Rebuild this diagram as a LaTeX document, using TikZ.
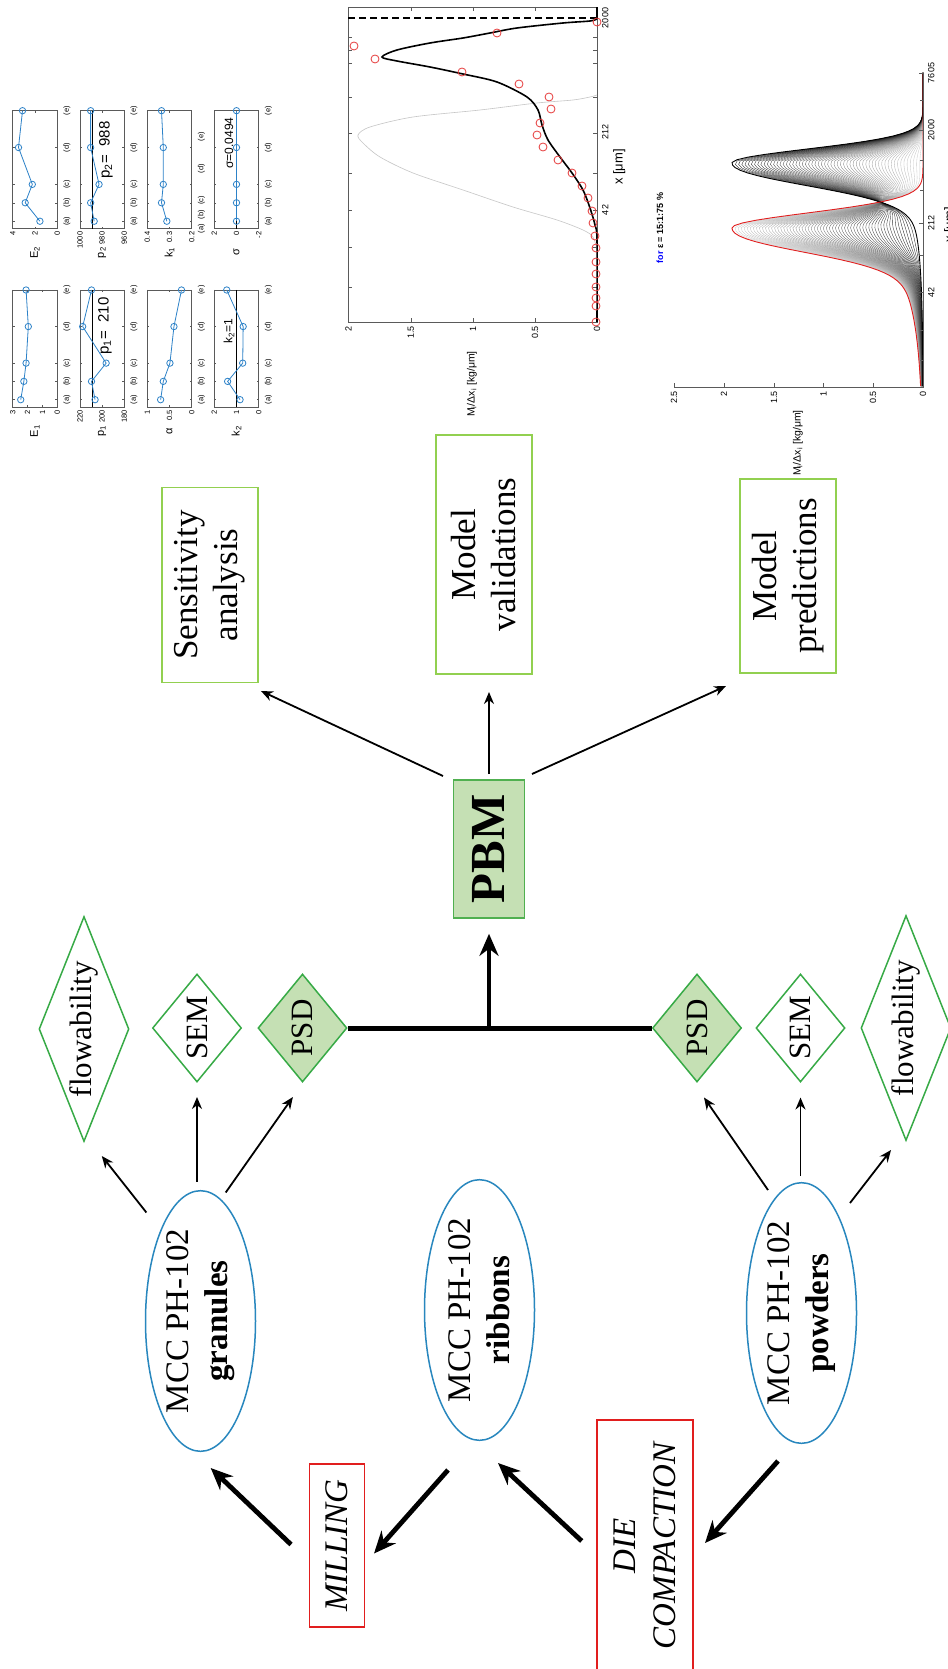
\documentclass[tikz,border=0pt]{standalone}
\usepackage{fontspec}
\setmainfont{Liberation Serif}
\newfontfamily\plotfont{Liberation Sans}
\usetikzlibrary{shapes.geometric,arrows.meta,calc,plotmarks}
\definecolor{boxgreen}{RGB}{146,208,80}
\definecolor{pbmgreen}{RGB}{80,176,80}
\definecolor{dgreen}{RGB}{55,170,70}
\definecolor{lgfill}{RGB}{197,224,180}
\definecolor{ellblue}{RGB}{40,135,190}
\definecolor{procred}{RGB}{225,30,30}
\definecolor{mblue}{RGB}{45,130,200}
\definecolor{circred}{RGB}{230,60,60}
\definecolor{axgray}{RGB}{90,90,90}
\newcommand\sptick{\plotfont\fontsize{7.5}{8}\selectfont}
\newcommand\splab{\plotfont\fontsize{11}{12}\selectfont}
\newcommand\ptick{\plotfont\fontsize{9}{10}\selectfont}
\def\catstd{0.0625/{(a)},0.219/{(b)},0.375/{(c)},0.6875/{(d)},1/{(e)}}
\def\catkone{0.0/{(a)},0.12/{(b)},0.24/{(c)},0.51/{(d)},0.78/{(e)}}
\newcommand\spframe[3]{%
  \draw[axgray, line width=0.6pt] (0,0) rectangle (1,1);
  \foreach \u in {0.0625,0.219,0.375,0.6875,1}{%
    \draw[axgray, line width=0.5pt] (\u,0) -- ([xshift=-2pt]\u,0);
    \draw[axgray, line width=0.5pt] (\u,1) -- ([xshift=2pt]\u,1);}
  \foreach \f/\l in {#1}{%
    \draw[axgray, line width=0.5pt] (0,\f) -- ([yshift=2pt]0,\f);
    \draw[axgray, line width=0.5pt] (1,\f) -- ([yshift=-2pt]1,\f);
    \node[rotate=90, anchor=east, font=\sptick, inner sep=0pt] at ([yshift=-3pt]0,\f) {\l};}
  \foreach \u/\l in #3{%
    \node[rotate=90, anchor=north, font=\sptick, inner sep=0pt] at ([xshift=6pt]\u,0) {\l};}
  \node[rotate=90, font=\splab] at ([yshift=-24pt]0,0.5) {#2};
}
\tikzset{
  gbox/.style={draw=boxgreen, line width=1.6pt, rotate=90, inner sep=0pt, align=center, font=\fontsize{35}{40}\selectfont},
  pbmbox/.style={draw=pbmgreen, fill=lgfill, line width=1.6pt, rotate=90, inner sep=0pt, minimum width=138pt, minimum height=71pt, font=\fontsize{49}{55}\selectfont\bfseries},
  dia/.style={diamond, draw=dgreen, line width=1.5pt, rotate=90, inner sep=0pt, font=\fontsize{31}{35}\selectfont},
  smalldia/.style={dia, minimum width=108pt, minimum height=89pt, shape aspect=1.2},
  longdia/.style={dia, minimum width=225pt, minimum height=90pt, shape aspect=2.5},
  ell/.style={ellipse, draw=ellblue, line width=1.5pt, rotate=90, inner sep=0pt, minimum width=258pt, minimum height=110pt, align=center, font=\fontsize{33}{39}\selectfont},
  redbox/.style={draw=procred, line width=1.6pt, rotate=90, inner sep=0pt, align=center, font=\fontsize{33}{40}\selectfont\itshape},
  thinarr/.style={line width=1.8pt, -{Stealth[length=12pt,width=10pt]}},
  thickarr/.style={line width=4.8pt, -{Stealth[length=22pt,width=19pt]}},
  sp/.style n args={4}{shift={(#2,#4)}, x={(0pt,#4pt-#3pt)}, y={(#1pt-#2pt,0pt)}},
  spdat/.style={mblue, line width=0.8pt, mark=o, mark size=3.2pt},
  refline/.style={black, line width=1.6pt},
}
\begin{document}
\begin{tikzpicture}[x=1pt,y=-1pt,
  declare function={
    fA(\y)=1.92*(exp(max(-20,-0.5*(((\y-228)/(15+5*(\y>228)))^2)))+(\y>228)*0.3*exp(max(-20,-(\y-228)/50))*(1-exp(max(-20,-((\y-228)/20)^2))));
    fB(\y)=1.92*(exp(max(-20,-0.5*(((\y-163)/(14+6*(\y>163)))^2)))+(\y>163)*0.2*exp(max(-20,-(\y-163)/40))*(1-exp(max(-20,-((\y-163)/20)^2))));
  }]
\useasboundingbox (0,0) rectangle (947,1669);
\fill[white] (0,0) rectangle (947,1669);

% ---------------- small sensitivity plots ----------------
\begin{scope}[sp={12.7}{57.3}{290}{407}]
  \spframe{1/3,0.6667/2,0.3333/1,0/0}{E\textsubscript{1}}{\catstd}
  \draw[spdat] plot coordinates {(0.0625,.82) (.219,.75) (.375,.70) (.6875,.65) (1,.70)};
\end{scope}
\begin{scope}[sp={12.7}{57.3}{110.7}{228.6}]
  \spframe{1/4,0.5/2,0/0}{E\textsubscript{2}}{\catstd}
  \draw[spdat] plot coordinates {(0.0625,.39) (.219,.72) (.375,.56) (.6875,.87) (1,.78)};
\end{scope}
\begin{scope}[sp={80}{124.3}{290}{407}]
  \spframe{1/220,0.5/200,0/180}{p\textsubscript{1}}{\catstd}
  \draw[refline] (0,.72) -- (1,.72);
  \draw[spdat] plot coordinates {(0.0625,.66) (.219,.74) (.375,.41) (.6875,.94) (1,.74)};
\end{scope}
\begin{scope}[sp={80}{124.3}{110.7}{228.6}]
  \spframe{1/1000,0.5/980,0/960}{p\textsubscript{2}}{\catstd}
  \draw[refline] (0,.72) -- (1,.72);
  \draw[spdat] plot coordinates {(0.0625,.68) (.219,.76) (.375,.57) (.6875,.76) (1,.76)};
\end{scope}
\begin{scope}[sp={147.3}{191.7}{290}{407}]
  \spframe{1/1,0.5/0.5,0/0}{α}{\catstd}
  \draw[spdat] plot coordinates {(0.0625,.70) (.219,.64) (.375,.49) (.6875,.40) (1,.23)};
\end{scope}
\begin{scope}[sp={147.3}{191.7}{110.7}{228.6}]
  \spframe{1/0.4,0.5/0.3,0/0.2}{k\textsubscript{1}}{\catkone}
  \draw[spdat] plot coordinates {(0.0625,.56) (.219,.68) (.375,.64) (.6875,.64) (1,.68)};
\end{scope}
\begin{scope}[sp={214.3}{258.7}{290}{407}]
  \spframe{1/2,0.5/1,0/0}{k\textsubscript{2}}{\catstd}
  \draw[refline] (0,.5) -- (1,.5);
  \draw[spdat] plot coordinates {(0.0625,.42) (.219,.70) (.375,.36) (.6875,.35) (1,.72)};
\end{scope}
\begin{scope}[sp={214.3}{258.7}{110.7}{228.6}]
  \spframe{1/2,0.5/0,0/-2}{σ}{\catstd}
  \draw[refline] (0,.5) -- (1,.5);
  \draw[spdat] plot coordinates {(0.0625,.5) (.219,.5) (.375,.5) (.6875,.5) (1,.5)};
\end{scope}
\node[rotate=90, font=\plotfont\fontsize{15}{16}\selectfont] (tp1) at (105,326) {p\textsubscript{1}=\ \ 210};
\node[rotate=90, font=\plotfont\fontsize{15}{16}\selectfont] (tp2) at (106,150) {p\textsubscript{2}=\ \ 988};
\node[rotate=90, font=\plotfont\fontsize{12}{13}\selectfont] (tk2) at (229,331) {k\textsubscript{2}=1};
\node[rotate=90, font=\plotfont\fontsize{12}{13}\selectfont] (tsig) at (229,143) {σ=0.0494};

% ---------------- validation plot ----------------
\draw[axgray, line width=0.7pt] (348,7) rectangle (597,322);
\foreach \yy in {18,37,50,63,97,133,173,210,247,287}{
  \draw[axgray,line width=0.5pt] (348,\yy) -- (352,\yy);
  \draw[axgray,line width=0.5pt] (597,\yy) -- (593,\yy);}
\foreach \xx in {410.9,473,535.1}{
  \draw[axgray,line width=0.5pt] (\xx,7) -- (\xx,11);
  \draw[axgray,line width=0.5pt] (\xx,322) -- (\xx,318);}
\foreach \xx/\l in {348.5/2,410.9/1.5,473/1,535.1/0.5,597/0}{
  \node[rotate=90, anchor=east, font=\ptick, inner sep=0pt] at (\xx,326) {\l};}
\foreach \yy/\l in {18/2000,132/212,210/42}{
  \node[rotate=90, anchor=north, font=\ptick, inner sep=0pt] at (602,\yy) {\l};}
\node[rotate=90, anchor=north, font=\plotfont\fontsize{13}{14}\selectfont, inner sep=0pt] (vxl) at (613,167) {x [μm]};
\node[rotate=90, anchor=east, font=\plotfont\fontsize{10.5}{12}\selectfont, inner sep=0pt] (vyl) at (472,351) {M\textsubscript{i}/Δx\textsubscript{i} [kg/μm]};
\draw[gray!45, line width=0.6pt] plot[smooth] coordinates {(597,95) (590,97) (573,100) (537,103) (480,110) (413,117) (370,127) (358,135) (363,143) (380,157) (413,173) (463,190) (513,207) (557,220) (583,230) (593,237) (597,250)};
\draw[black, line width=1.6pt] plot[smooth] coordinates {(597,322) (597,240) (595,225) (590,208) (583,190) (572,173) (560,157) (548,140) (542,125) (538,110) (527,97) (497,82) (463,74) (430,67) (397,61) (382,57) (397,50) (430,43) (463,38) (490,33) (517,28) (563,23) (590,21) (597,19)};
\draw[black, line width=1.6pt] (597,19) -- (597,7);
\draw[black, line width=1.6pt, dash pattern=on 7pt off 4pt] (348,18) -- (597,18);
\draw[circred, line width=0.8pt] plot[only marks, mark=o, mark size=4pt] coordinates {(354,46) (375,59) (462,72) (497,33) (519,84) (549,97) (551,109) (540,123) (537,135) (543,147) (558,160) (572,173) (582,186) (588,198) (592,211) (593,223) (595,236) (596,248) (596,262) (596,274) (596,287) (596,298) (596,306) (596,322) (597,22)};

% ---------------- prediction plot ----------------
\foreach \i in {1,...,59}{
  \pgfmathsetmacro\tval{\i/60}
  \pgfmathtruncatemacro\gval{18+72*\i/60}
  \draw[black!\gval, line width=0.35pt] plot[domain=73:386, samples=90] ({923-99.5*((1-\tval)*fA(\x)+\tval*fB(\x))},\x);
}
\draw[black, line width=0.9pt] plot[domain=73:386, samples=120] ({923-99.5*fB(\x)},\x);
\draw[procred, line width=0.9pt] plot[domain=73:386, samples=120] ({923-99.5*fA(\x)},\x);
\draw[axgray, line width=0.7pt] (923,73) -- (923,387) -- (674,387);
\foreach \xx/\l in {674/2.5,724/2,774/1.5,823.5/1,873/0.5,923/0}{
  \draw[axgray,line width=0.5pt] (\xx,387) -- (\xx,383);
  \node[rotate=90, anchor=east, font=\ptick, inner sep=0pt] at (\xx,391) {\l};}
\foreach \yy/\l in {73/7605,130/2000,223/212,292/42}{
  \draw[axgray,line width=0.5pt] (923,\yy) -- (919,\yy);
  \node[rotate=90, anchor=north, font=\ptick, inner sep=0pt] at (928,\yy) {\l};}
\foreach \yy in {100,160,190,255,330,360}{\draw[axgray,line width=0.5pt] (923,\yy) -- (920,\yy);}
\node[rotate=90, anchor=east, font=\plotfont\fontsize{10.5}{12}\selectfont, inner sep=0pt] (pyl) at (798,410) {M\textsubscript{i}/Δx\textsubscript{i} [kg/μm]};
\node[rotate=90, anchor=north, font=\plotfont\fontsize{13}{14}\selectfont, inner sep=0pt] (pxl) at (944,225) {x [μm]};
\node[rotate=90, font=\plotfont\fontsize{9}{10}\selectfont\bfseries] (ptitle) at (660,228) {\textcolor{blue}{for} ε = 15:1:75 \%};

% ---------------- flowchart nodes ----------------
\node[gbox, minimum width=195pt, minimum height=96pt] (sens) at (210,585) {Sensitivity\\analysis};
\node[gbox, minimum width=239pt, minimum height=96pt] (valid) at (484,554.5) {Model\\validations};
\node[gbox, minimum width=194pt, minimum height=96pt] (pred) at (788,576) {Model\\predictions};
\node[pbmbox] (pbm) at (489,849) {PBM};

\node[longdia] (flowG) at (84,1029) {flowability};
\node[smalldia] (semG) at (197,1028) {SEM};
\node[smalldia, fill=lgfill] (psdG) at (302.5,1028) {PSD};
\node[smalldia, fill=lgfill] (psdP) at (697,1028) {PSD};
\node[smalldia] (semP) at (800.5,1028) {SEM};
\node[longdia] (flowP) at (906,1028) {flowability};

\node[ell] (granules) at (200.5,1321) {MCC PH-102\\\textbf{granules}};
\node[ell] (ribbons) at (479.5,1310) {MCC PH-102\\\textbf{ribbons}};
\node[ell] (powders) at (801.5,1313) {MCC PH-102\\\textbf{powders}};

\node[redbox, minimum width=163pt, minimum height=55pt] (milling) at (337,1545.5) {MILLING};
\node[redbox, minimum width=252pt, minimum height=96pt] (die) at (645,1546) {DIE\\COMPACTION};

% ---------------- connectors ----------------
\draw[thinarr] ($(granules)+(-54.1,-108.5)$) -- ($(flowG)+(17.8,127)$);
\draw[thinarr] ($(granules)+(-3.5,-139.4)$) -- ($(semG)+(0,69)$);
\draw[thinarr] ($(granules)+(25.2,-128.5)$) -- ($(psdG)+(-9.6,69)$);
\draw[thinarr] ($(powders)+(-33.5,-123)$) -- ($(psdP)+(7,69.5)$);
\draw[thinarr] ($(powders)+(-1,-137)$) -- ($(semP)+(0,69.5)$);
\draw[thinarr] ($(powders)+(48.5,-110)$) -- ($(flowP)+(-15,122)$);

\draw[thinarr] ($(pbm)+(-46,-73)$) -- ($(sens)+(51,106)$);
\draw[thinarr] ($(pbm)+(0,-75)$) -- ($(valid)+(5,137.5)$);
\draw[thinarr] ($(pbm)+(43,-75)$) -- ($(pred)+(-62,110)$);

\draw[line width=5pt] (psdG.south) -- (psdP.north);
\coordinate (junc) at (pbm.center |- psdG.south);
\draw[thickarr] (junc) -- ([yshift=-15pt]pbm.west);

\draw[thickarr] ($(milling)+(-46,-1)$) -- ($(granules)+(10.2,147)$);
\draw[thickarr] ($(ribbons)+(-31.5,160)$) -- ($(milling)+(37,8)$);
\draw[thickarr] ($(die)+(-63.3,-5)$) -- ($(ribbons)+(18.5,153)$);
\draw[thickarr] ($(powders)+(-23.5,148)$) -- ($(die)+(60,-3)$);
\end{tikzpicture}
\end{document}
